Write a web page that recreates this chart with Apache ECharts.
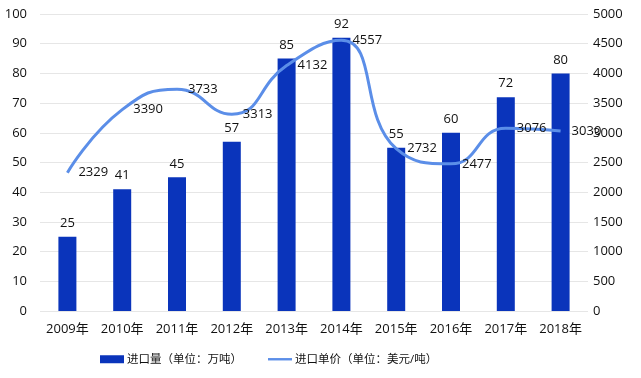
<!DOCTYPE html>
<html>
<head>
<meta charset="utf-8">
<script src="https://cdn.jsdelivr.net/npm/echarts@6/dist/echarts.min.js"></script>
<style>
html, body {margin: 0; padding: 0; background: #fff;}
#chart {width: 641px; height: 378px;}
</style>
</head>
<body>
<div id="chart"></div>
<script>
const years = ['2009年', '2010年', '2011年', '2012年', '2013年', '2014年', '2015年', '2016年', '2017年', '2018年'];
const volume = [25, 41, 45, 57, 85, 92, 55, 60, 72, 80];
const price = [2329, 3390, 3733, 3313, 4132, 4557, 2732, 2477, 3076, 3030];

const font = '"Open Sans", "Noto Sans CJK SC", sans-serif';
const myChart = echarts.init(document.getElementById('chart'));
myChart.setOption({
    animation: false,
    textStyle: {fontFamily: font, color: '#111'},
    grid: {left: 40, right: 53, top: 14, bottom: 67},
    legend: {
        bottom: 8,
        left: 95,
        itemGap: 26,
        itemWidth: 24,
        itemHeight: 8,
        textStyle: {fontSize: 11.5, color: '#111', fontFamily: font, padding: [0, 0, 0, -2]},
        data: [
            {name: '进口量（单位：万吨）', icon: 'rect'},
            {name: '进口单价（单位：美元/吨）', icon: 'path://M0,0H30V3H0Z', itemStyle: {color: '#5b8ee8'}}
        ]
    },
    xAxis: {
        type: 'category',
        data: years,
        axisLine: {show: false},
        axisTick: {show: false},
        axisLabel: {fontSize: 13, color: '#111', margin: 12, interval: 0}
    },
    yAxis: [
        {
            type: 'value',
            min: 0, max: 100, interval: 10,
            axisLabel: {fontSize: 13, color: '#111', margin: 13},
            splitLine: {lineStyle: {color: '#e6e6e6'}}
        },
        {
            type: 'value',
            min: 0, max: 5000, interval: 500,
            axisLabel: {fontSize: 13, color: '#111', margin: 5, formatter: v => String(v)},
            splitLine: {show: false}
        }
    ],
    series: [
        {
            name: '进口量（单位：万吨）',
            type: 'bar',
            barWidth: 18,
            itemStyle: {color: '#0a34bb'},
            label: {show: true, position: 'top', fontSize: 13, color: '#111', distance: 7},
            data: volume
        },
        {
            name: '进口单价（单位：美元/吨）',
            type: 'line',
            yAxisIndex: 1,
            smooth: 0.5,
            symbol: 'circle',
            symbolSize: 0,
            showSymbol: true,
            lineStyle: {color: '#5b8ee8', width: 3},
            itemStyle: {color: '#5b8ee8'},
            label: {show: true, position: 'right', fontSize: 13, color: '#111', distance: 11},
            data: price
        }
    ]
});
</script>
</body>
</html>
